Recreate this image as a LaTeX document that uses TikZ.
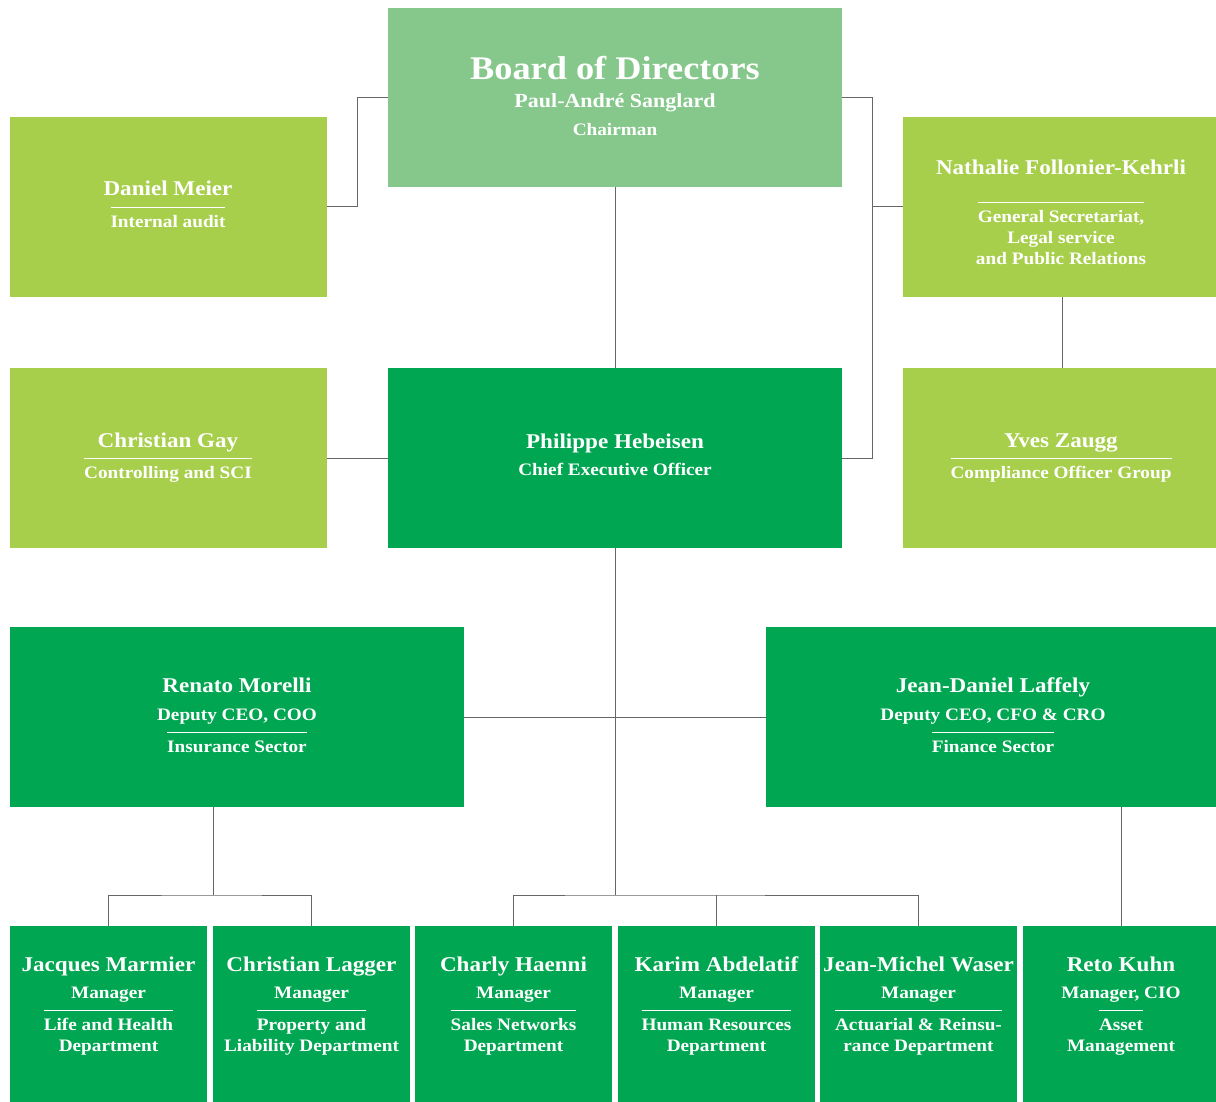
\documentclass[tikz,border=0pt]{standalone}
\usepackage{fontspec}
\setmainfont{Liberation Serif}[FakeStretch=1.1]
\usetikzlibrary{calc}
\definecolor{boardgreen}{HTML}{86C88B}
\definecolor{limegreen}{HTML}{A8CF4C}
\definecolor{darkgreen}{HTML}{00A651}
\definecolor{connector}{HTML}{666666}
\newsavebox\olbox
\newcommand\olx[1]{\sbox\olbox{#1}\smash{\rlap{\rule[19.5pt]{\wd\olbox}{0.8pt}}}\usebox\olbox}
\newcommand\nm[1]{{\fontsize{21}{21}\selectfont\rule{0pt}{16pt}#1}}
\begin{document}
\begin{tikzpicture}[x=1pt,y=-1pt,
  box/.style 2 args={draw=none,minimum width=#1,minimum height=#2,inner sep=0pt},
  lightbox/.style={fill=boardgreen},
  limebox/.style={fill=limegreen},
  darkbox/.style={fill=darkgreen},
  txt/.style={text=white,align=center,inner sep=0pt,anchor=north,
    font=\fontsize{17.5}{21}\selectfont\bfseries},
  conn/.style={draw=connector,line width=1pt}]
\useasboundingbox (0,0) rectangle (1216,1102);
% boxes
\node[box={454pt}{179pt},lightbox] (board) at (615,97.5) {};
\node[box={317pt}{180pt},limebox] (dm) at (168.5,207) {};
\node[box={313pt}{180pt},limebox] (nat) at (1059.5,207) {};
\node[box={317pt}{180pt},limebox] (cg) at (168.5,458) {};
\node[box={454pt}{180pt},darkbox] (ceo) at (615,458) {};
\node[box={313pt}{180pt},limebox] (yz) at (1059.5,458) {};
\node[box={454pt}{180pt},darkbox] (ren) at (237,717) {};
\node[box={450pt}{180pt},darkbox] (jd) at (991,717) {};
\node[box={197pt}{176pt},darkbox] (jm) at (108.5,1014) {};
\node[box={197pt}{176pt},darkbox] (cl) at (311.5,1014) {};
\node[box={197pt}{176pt},darkbox] (ch) at (513.5,1014) {};
\node[box={197pt}{176pt},darkbox] (ka) at (716.5,1014) {};
\node[box={197pt}{176pt},darkbox] (jw) at (918.5,1014) {};
\node[box={193pt}{176pt},darkbox] (rk) at (1119.5,1014) {};
% texts
\node[txt] (board-t) at (615,55) {{\fontsize{33}{33}\selectfont\rule{0pt}{24pt}Board of Directors}\\[7pt]
  {\fontsize{20}{20}\selectfont Paul-André Sanglard}\\[7pt] Chairman};
\node[txt] (dm-t) at (168,179) {\nm{Daniel Meier}\\[11pt]\olx{Internal audit}};
\node[txt] (nat-t) at (1061,158) {\nm{Nathalie Follonier-Kehrli}\\[27pt]\olx{General Secretariat,}\\Legal service\\and Public Relations};
\node[txt] (cg-t) at (168,431) {\nm{Christian Gay}\\[10pt]\olx{Controlling and SCI}};
\node[txt] (ceo-t) at (615,432) {\nm{Philippe Hebeisen}\\[6pt]Chief Executive Officer};
\node[txt] (yz-t) at (1061,431) {\nm{Yves Zaugg}\\[10pt]\olx{Compliance Officer Group}};
\node[txt] (ren-t) at (237,676) {\nm{Renato Morelli}\\[7pt]Deputy CEO, COO\\[11pt]\olx{Insurance Sector}};
\node[txt] (jd-t) at (993,676) {\nm{Jean-Daniel Laffely}\\[7pt]Deputy CEO, CFO \& CRO\\[11pt]\olx{Finance Sector}};
\node[txt] (jm-t) at (108.5,955) {\nm{Jacques Marmier}\\[6pt]Manager\\[11pt]\olx{Life and Health}\\Department};
\node[txt] (cl-t) at (311.5,955) {\nm{Christian Lagger}\\[6pt]Manager\\[11pt]\olx{Property and}\\Liability Department};
\node[txt] (ch-t) at (513.5,955) {\nm{Charly Haenni}\\[6pt]Manager\\[11pt]\olx{Sales Networks}\\Department};
\node[txt] (ka-t) at (716.5,955) {\nm{Karim Abdelatif}\\[6pt]Manager\\[11pt]\olx{Human Resources}\\Department};
\node[txt] (jw-t) at (918.5,955) {\nm{Jean-Michel Waser}\\[6pt]Manager\\[11pt]\olx{Actuarial \& Reinsu-}\\rance Department};
\node[txt] (rk-t) at (1121,955) {\nm{Reto Kuhn}\\[6pt]Manager, CIO\\[11pt]\olx{Asset}\\Management};
% connectors
\coordinate (lb) at ($(dm.east)!.5!(board.west |- dm.east)$);
\draw[conn] (dm.east) -- (lb) |- (board.west);
\coordinate (rb) at ($(board.east)!.5!(nat.west |- board.east)$);
\draw[conn] (board.east) -- (rb) |- (nat.west);
\draw[conn] (rb) |- (ceo.east);
\draw[conn] (board.south) -- (ceo.north);
\coordinate (nyx) at (1062,297);
\draw[conn] (nyx) -- (nyx |- yz.north);
\draw[conn] (cg.east) -- (ceo.west);
\draw[conn] (ren.east) -- (jd.west);
\coordinate (cbus) at (615,895);
\draw[conn] (ceo.south) -- (cbus);
\draw[conn] (ch.north) |- (cbus) -| (jw.north);
\draw[conn] (ka.north) -- (ka.north |- cbus);
\coordinate (rbus) at (213,895);
\draw[conn] (ren.south -| rbus) -- (rbus);
\draw[conn] (jm.north) |- (rbus) -| (cl.north);
\coordinate (rkx) at (1121,926);
\draw[conn] (jd.south -| rkx) -- (rkx);
\end{tikzpicture}
\end{document}
